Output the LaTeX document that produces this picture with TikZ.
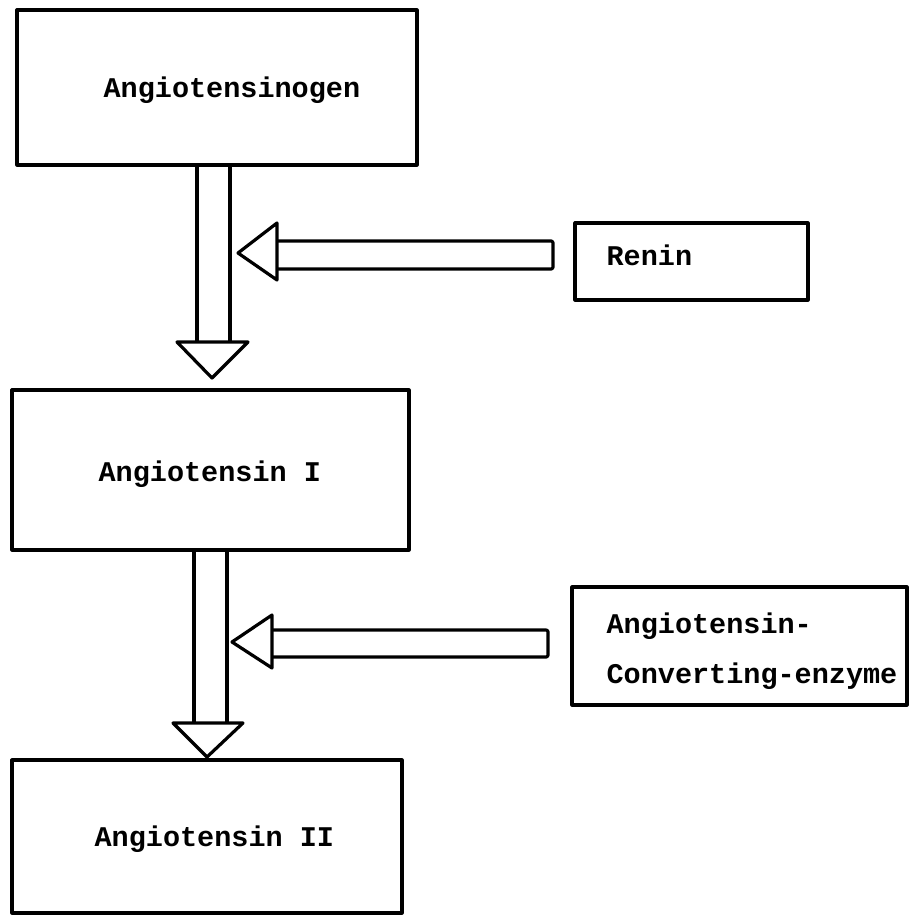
\documentclass[tikz,border=0pt]{standalone}
\usepackage{fontspec}
\setmonofont{Liberation Mono}
\begin{document}
\begin{tikzpicture}[x=1pt,y=-1pt,line width=3.2pt,line join=round,
  box/.style={draw,inner sep=0pt},
  lbl/.style={font=\ttfamily\bfseries\fontsize{28.5}{50}\selectfont,inner sep=0pt,anchor=base west},
  head/.style={draw,fill=white}]
\useasboundingbox (0,0) rectangle (909,917);
% boxes
\node[box,minimum width=400pt,minimum height=155pt] (b1) at (217,87.5) {};
\node[box,minimum width=397pt,minimum height=160pt] (b2) at (210.5,470) {};
\node[box,minimum width=390pt,minimum height=153pt] (b3) at (207,836.5) {};
\node[box,minimum width=233pt,minimum height=77pt] (renin) at (691.5,261.5) {};
\node[box,minimum width=335pt,minimum height=118pt] (ace) at (739.5,646) {};
% labels
\node[lbl] (t1) at (102,98) {Angiotensinogen};
\node[lbl] (t2) at (97,481) {Angiotensin I};
\node[lbl] (t3) at (93,846) {Angiotensin II};
\node[lbl] (t4) at (605,265) {Renin};
\node[lbl] (t5) at (605,633) {Angiotensin-};
\node[lbl] (t6) at (605,683) {Converting-enzyme};
% vertical block arrow 1
\coordinate (v1l) at (197,342);
\coordinate (v1r) at (230,342);
\draw (v1l |- b1.south) -- (v1l);
\draw (v1r |- b1.south) -- (v1r);
\draw[head] (177,342) -- (248,342) -- (212,378) -- cycle;
% vertical block arrow 2
\coordinate (v2l) at (194,723);
\coordinate (v2r) at (227,723);
\draw (v2l |- b2.south) -- (v2l);
\draw (v2r |- b2.south) -- (v2r);
\draw[head] (173,723) -- (243,723) -- (207,757) -- cycle;
% horizontal block arrow 1 (Renin)
\draw[rounded corners=2pt] (277,241) -- (553,241) -- (553,269) -- (277,269);
\draw[head] (277,223) -- (277,280) -- (238,253) -- cycle;
% horizontal block arrow 2 (ACE)
\draw[rounded corners=2pt] (272,630) -- (548,630) -- (548,657) -- (272,657);
\draw[head] (272,615) -- (272,668) -- (232,642) -- cycle;
\end{tikzpicture}
\end{document}
